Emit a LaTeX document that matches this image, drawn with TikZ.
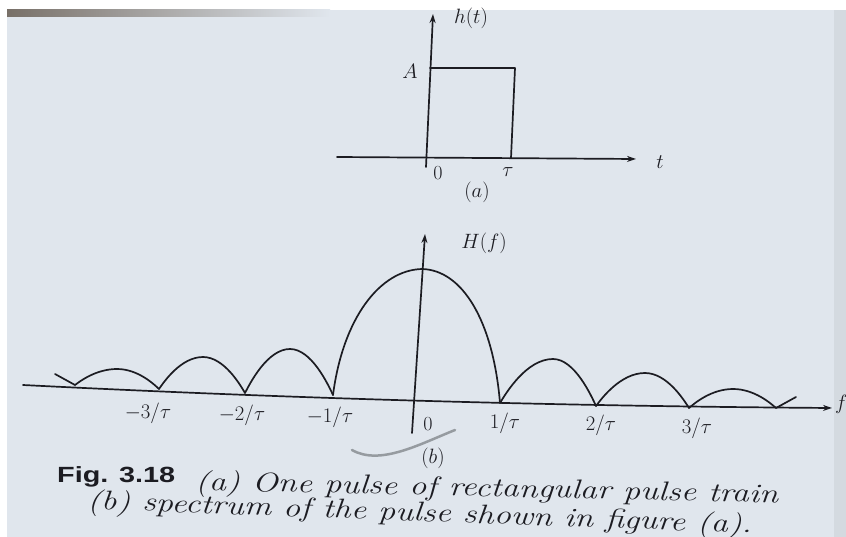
\documentclass[tikz,border=0pt]{standalone}
\usepackage{graphicx}
\usepackage{fontspec}
\newfontfamily\capsans{Liberation Sans}
\usetikzlibrary{arrows.meta,calc}
\definecolor{page}{RGB}{224,230,237}
\definecolor{ink}{RGB}{28,28,34}
\definecolor{shade}{RGB}{120,112,104}
\definecolor{pencil}{RGB}{150,155,160}
\newsavebox\fitbox
\newcommand\fitto[2]{\sbox\fitbox{#2}\pgfmathsetmacro\fitfac{#1/\the\wd\fitbox}\scalebox{\fitfac}[1]{\usebox\fitbox}}
\tikzset{
  ln/.style={line width=1.7pt, draw=ink, line cap=round, line join=round},
  axarrow/.style={ln, -{Stealth[length=9pt,width=6pt]}},
  lbl/.style={text=ink, inner sep=0pt, font=\fontsize{20}{24}\selectfont},
  captext/.style={text=ink, inner sep=0pt, anchor=base west, font=\fontsize{27}{30}\selectfont\itshape},
}
\begin{document}
\begin{tikzpicture}[x=1pt,y=-1pt]
\useasboundingbox (0,0) rectangle (846,537);
\fill[white] (0,0) rectangle (846,537);
\fill[page] (7,10) rectangle (846,537);
\shade[left color=shade, right color=page] (7,10) rectangle (330,17);
\fill[page!90!black, opacity=0.5] (834,10) rectangle (846,537);

% ---------- (a) rectangular pulse ----------
\coordinate (ta0) at (337,157);
\coordinate (ta1) at (636,159);
\coordinate (va0) at (426,167);
\coordinate (va1) at (433,14);
\coordinate (pA) at (430,68);
\coordinate (pB) at (515,68);
\coordinate (pC) at (511,158);
\draw[axarrow] (ta0) -- (ta1);
\draw[axarrow] (va0) -- (va1);
\draw[ln] (pA) -- (pB) -- (pC);
\node[lbl] (ht) at (471,18) {$h(t)$};
\node[lbl] (lA) at (410,71) {$A$};
\node[lbl] (lt) at (660,162) {$t$};
\node[lbl] (l0a) at (438,173) {0};
\node[lbl] (ltau) at (508,172) {$\tau$};
\node[lbl] (la) at (477,192) {$(a)$};

% ---------- (b) spectrum ----------
\coordinate (fa0) at (23,385);
\coordinate (fa1) at (832,408);
\draw[axarrow] (fa0) .. controls (300,399) and (560,406) .. (fa1);
\coordinate (vb0) at (412,433);
\coordinate (vb1) at (425,234);
\draw[axarrow] (vb0) -- (vb1);
\node[lbl] (Hf) at (484,243) {$H(f)$};

% zeros and peaks
\coordinate (zm4) at (75,385);
\coordinate (zm3) at (159,389);
\coordinate (zm2) at (245,393);
\coordinate (zm1) at (333,395);
\coordinate (zp1) at (500,403);
\coordinate (zp2) at (596,406);
\coordinate (zp3) at (689,408);
\coordinate (zp4) at (776,408);
\coordinate (tl) at (55,374);
\coordinate (tr) at (796,397);
\coordinate (pk0) at (422,269);

\draw[ln] (tl) -- (zm4);
\draw[ln] (zm4) parabola bend (117,369) (zm3);
\draw[ln] (zm3) parabola bend (203,357) (zm2);
\draw[ln] (zm2) parabola bend (290,349) (zm1);
\draw[ln] (zm1) .. controls (343,318) and (380,270) .. (pk0)
              .. controls (462,270) and (493,320) .. (zp1);
\draw[ln] (zp1) parabola bend (553,359) (zp2);
\draw[ln] (zp2) parabola bend (645,373) (zp3);
\draw[ln] (zp3) parabola bend (733,389) (zp4);
\draw[ln] (zp4) -- (tr);

\node[lbl] (m3) at (148,413) {$-3/\tau$};
\node[lbl] (m2) at (242,415) {$-2/\tau$};
\node[lbl] (m1) at (330,417) {$-1/\tau$};
\node[lbl] (z0) at (428,424) {0};
\node[lbl] (p1) at (505,423) {$1/\tau$};
\node[lbl] (p2) at (601,425) {$2/\tau$};
\node[lbl] (p3) at (697,428) {$3/\tau$};
\node[lbl] (lb) at (433,458) {$(b)$};
\node[lbl, anchor=west] (lf) at (835,404) {$f$};

% pencil mark
\coordinate (pm0) at (352,450);
\coordinate (pm1) at (455,430);
\draw[pencil, line width=2.5pt, line cap=round] (pm0) .. controls (380,466) and (420,444) .. (pm1);

% ---------- caption ----------
\node[text=ink, inner sep=0pt, anchor=base west, font=\capsans\bfseries\fontsize{22}{26}\selectfont] (fig) at (57,482) {\fitto{118}{Fig. 3.18}};
\node[captext, rotate=-1.28] (c1) at (195,490) {\fitto{583}{(a) One pulse of rectangular pulse train}};
\node[captext, rotate=-2.07] (c2) at (87,509) {\fitto{665}{(b) spectrum of the pulse shown in figure (a).}};
\end{tikzpicture}
\end{document}
